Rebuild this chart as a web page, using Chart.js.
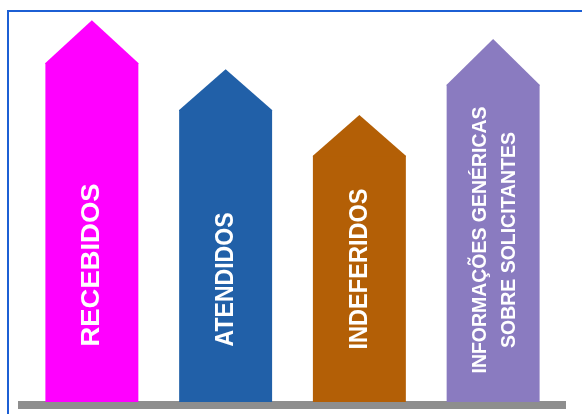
<!DOCTYPE html>
<html>
<head>
<meta charset="utf-8">
<script src="https://cdn.jsdelivr.net/npm/chart.js@4.4.1/dist/chart.umd.min.js"></script>
<style>
  html, body { margin: 0; padding: 0; background: #ffffff; }
  #wrap { position: relative; width: 582px; height: 414px; overflow: hidden; background: #ffffff; }
  #c { position: absolute; left: 0; top: 0; }
  #frame { position: absolute; left: 7px; top: 10px; width: 620px; height: 440px;
           border-left: 2px solid #1C5FD4; border-top: 2px solid #1C5FD4; pointer-events: none; }
</style>
</head>
<body>
<div id="wrap">
  <canvas id="c" width="582" height="414"></canvas>
  <div id="frame"></div>
</div>
<script>
// ---- data (relative heights, 0-100 scale) ----
const categories = ['RECEBIDOS', 'ATENDIDOS', 'INDEFERIDOS', 'INFORMAÇÕES GENÉRICAS SOBRE SOLICITANTES'];
const bodyValues = [86.5, 74.5, 62.8, 80.9];   // top of the rectangular body (arrow shoulders)
const tipValues  = [97.4, 84.9, 73.2, 92.6];   // arrow tips
const labelLines = [
  ['RECEBIDOS'],
  ['ATENDIDOS'],
  ['INDEFERIDOS'],
  ['INFORMAÇÕES GENÉRICAS', 'SOBRE SOLICITANTES']
];

// ---- styles ----
const barColors = ['#FF00FF', '#2160A8', '#B35F06', '#8A7BC0'];
const labelFontSize = [26.5, 25, 26.5, 21];
const labelLength = [163, 134, 161, 267];        // length of longest line, px
const labelMidAboveBase = [137, 122.5, 133, 162]; // px above baseline
const labelLineGap = 28.5;
const labelShiftX = -2;

const arrowPlugin = {
  id: 'arrows',
  beforeDatasetsDraw(chart) {
    const ctx = chart.ctx, a = chart.chartArea;
    ctx.save();
    ctx.fillStyle = '#8E8E8E';
    ctx.fillRect(18, a.bottom - 1, 566 - 18, 8);
    ctx.restore();
  },
  afterDatasetsDraw(chart) {
    const ctx = chart.ctx;
    const meta = chart.getDatasetMeta(0);
    const y = chart.scales.y;
    meta.data.forEach((bar, i) => {
      const p = bar.getProps(['x', 'y', 'width'], true);
      const tipY = y.getPixelForValue(tipValues[i]);
      ctx.save();
      ctx.fillStyle = barColors[i];
      ctx.beginPath();
      ctx.moveTo(p.x - p.width / 2, p.y + 1);
      ctx.lineTo(p.x - p.width / 2, p.y);
      ctx.lineTo(p.x, tipY);
      ctx.lineTo(p.x + p.width / 2, p.y);
      ctx.lineTo(p.x + p.width / 2, p.y + 1);
      ctx.closePath();
      ctx.fill();
      ctx.restore();
    });
  },
  afterDraw(chart) {
    const ctx = chart.ctx, a = chart.chartArea;
    const meta = chart.getDatasetMeta(0);
    meta.data.forEach((bar, i) => {
      const lines = labelLines[i];
      const fs = labelFontSize[i];
      ctx.save();
      ctx.font = 'bold ' + fs + 'px "Liberation Sans", Arial, sans-serif';
      let maxW = 0;
      lines.forEach(l => { maxW = Math.max(maxW, ctx.measureText(l).width); });
      const sx = labelLength[i] / maxW;
      const capH = fs * 0.72;
      const cy = a.bottom - labelMidAboveBase[i];
      lines.forEach((l, k) => {
        const off = (k - (lines.length - 1) / 2) * labelLineGap;
        const cx = bar.x + labelShiftX + off + (lines.length > 1 ? 2 : 0);
        ctx.save();
        ctx.translate(cx, cy);
        ctx.rotate(-Math.PI / 2);
        ctx.scale(sx, 1);
        ctx.fillStyle = '#FFFFFF';
        ctx.textAlign = 'center';
        ctx.textBaseline = 'alphabetic';
        ctx.fillText(l, 0, capH / 2);
        ctx.restore();
      });
      ctx.restore();
    });
  }
};

new Chart(document.getElementById('c'), {
  type: 'bar',
  data: {
    labels: categories,
    datasets: [{
      data: bodyValues,
      backgroundColor: barColors,
      borderWidth: 0,
      categoryPercentage: 1,
      barPercentage: 0.695
    }]
  },
  options: {
    responsive: false,
    animation: false,
    devicePixelRatio: 1,
    layout: { padding: { left: 25, right: 22, top: 10, bottom: 12 } },
    plugins: { legend: { display: false }, tooltip: { enabled: false } },
    scales: {
      x: { display: false, offset: true },
      y: { display: false, min: 0, max: 100 }
    }
  },
  plugins: [arrowPlugin]
});
</script>
</body>
</html>
